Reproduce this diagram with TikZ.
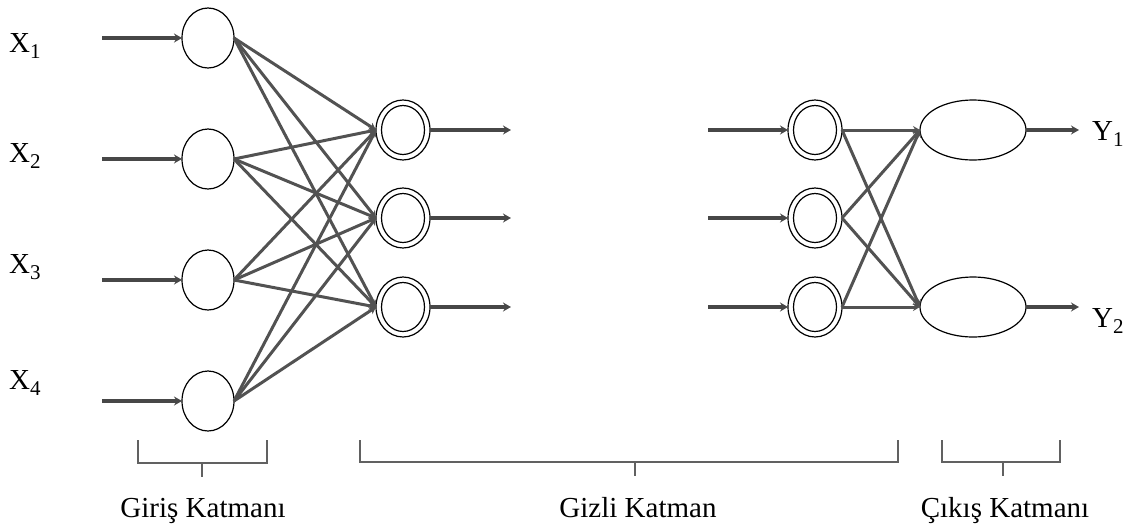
\documentclass[tikz,border=0pt]{standalone}
\usepackage{fontspec}
\setmainfont{Liberation Serif}
\usetikzlibrary{shapes.geometric,arrows.meta}
\newcommand\lblsub[2]{#1\raisebox{-6pt}{\fontsize{21}{23}\selectfont #2}}
\tikzset{
  neuron/.style={draw=black, line width=1.2pt, ellipse, inner sep=0pt, outer sep=0pt, minimum width=52pt, minimum height=60pt},
  hidn/.style={draw=black, line width=1.2pt, ellipse, inner sep=0pt, outer sep=0pt, minimum width=54pt, minimum height=60pt},
  hidnin/.style={draw=black, line width=1.2pt, ellipse, inner sep=0pt, outer sep=0pt, minimum width=43pt, minimum height=49pt},
  outn/.style={draw=black, line width=1.2pt, ellipse, inner sep=0pt, outer sep=0pt, minimum width=106pt, minimum height=60pt},
  conn/.style={draw=black!72, line width=3.4pt, -{Stealth[length=8pt,width=9pt]}},
  wire/.style={draw=black!68, line width=3pt, -{Stealth[length=7pt,width=8pt]}},
  brk/.style={draw=black!62, line width=1.6pt},
  txt/.style={font=\fontsize{29}{32}\selectfont, inner sep=0pt},
}
\begin{document}
\begin{tikzpicture}[x=1pt,y=-1pt]
\useasboundingbox (0,0) rectangle (1140,528);
% input neurons
\foreach \i/\y in {1/38,2/159,3/280,4/401}{
  \node[neuron] (in\i) at (208,\y) {};
  \coordinate (s\i) at (102,\y);
  \draw[conn] (s\i) -- (in\i.west);
}
% labels X
\node[txt, anchor=base west] (x1) at (9,52) {\lblsub{X}{1}};
\node[txt, anchor=base west] (x2) at (9,162) {\lblsub{X}{2}};
\node[txt, anchor=base west] (x3) at (9,273) {\lblsub{X}{3}};
\node[txt, anchor=base west] (x4) at (9,389) {\lblsub{X}{4}};
% hidden layer 1
\foreach \j/\y in {1/130,2/218,3/307}{
  \node[hidn] (ha\j) at (403,\y) {};
  \node[hidnin] (hai\j) at (403,\y) {};
  \coordinate (ea\j) at (511,\y);
  \draw[conn] (ha\j.east) -- (ea\j);
}
% hidden layer 2
\foreach \j/\y in {1/130,2/218,3/307}{
  \node[hidn] (hb\j) at (815,\y) {};
  \node[hidnin] (hbi\j) at (815,\y) {};
  \coordinate (sb\j) at (708,\y);
  \draw[conn] (sb\j) -- (hb\j.west);
}
% output
\node[outn] (o1) at (973,130) {};
\node[outn] (o2) at (973,307) {};
\coordinate (e1) at (1079,130);
\coordinate (e2) at (1079,307);
\draw[conn] (o1.east) -- (e1);
\draw[conn] (o2.east) -- (e2);
\node[txt, anchor=base west] (y1) at (1092,140) {\lblsub{Y}{1}};
\node[txt, anchor=base west] (y2) at (1092,327) {\lblsub{Y}{2}};
% input -> hidden1
\foreach \i in {1,2,3,4}{
  \foreach \j in {1,2,3}{
    \draw[wire] (in\i.east) -- (ha\j.west);
  }
}
% hidden2 -> output
\foreach \j in {1,2,3}{
  \foreach \k in {1,2}{
    \draw[wire] (hb\j.east) -- (o\k.west);
  }
}
% brackets
\draw[brk] (138,440) -- (138,463) -- (267,463) -- (267,440);
\draw[brk] (202,463) -- (202,477);
\draw[brk] (360,440) -- (360,462) -- (898,462) -- (898,440);
\draw[brk] (635,462) -- (635,476);
\draw[brk] (942,440) -- (942,462) -- (1060,462) -- (1060,440);
\draw[brk] (1003,462) -- (1003,476);
% layer labels
\node[txt, anchor=base] (l1) at (203,517) {Giriş Katmanı};
\node[txt, anchor=base] (l2) at (638,517) {Gizli Katman};
\node[txt, anchor=base] (l3) at (1005,517) {Çıkış Katmanı};
\end{tikzpicture}
\end{document}
